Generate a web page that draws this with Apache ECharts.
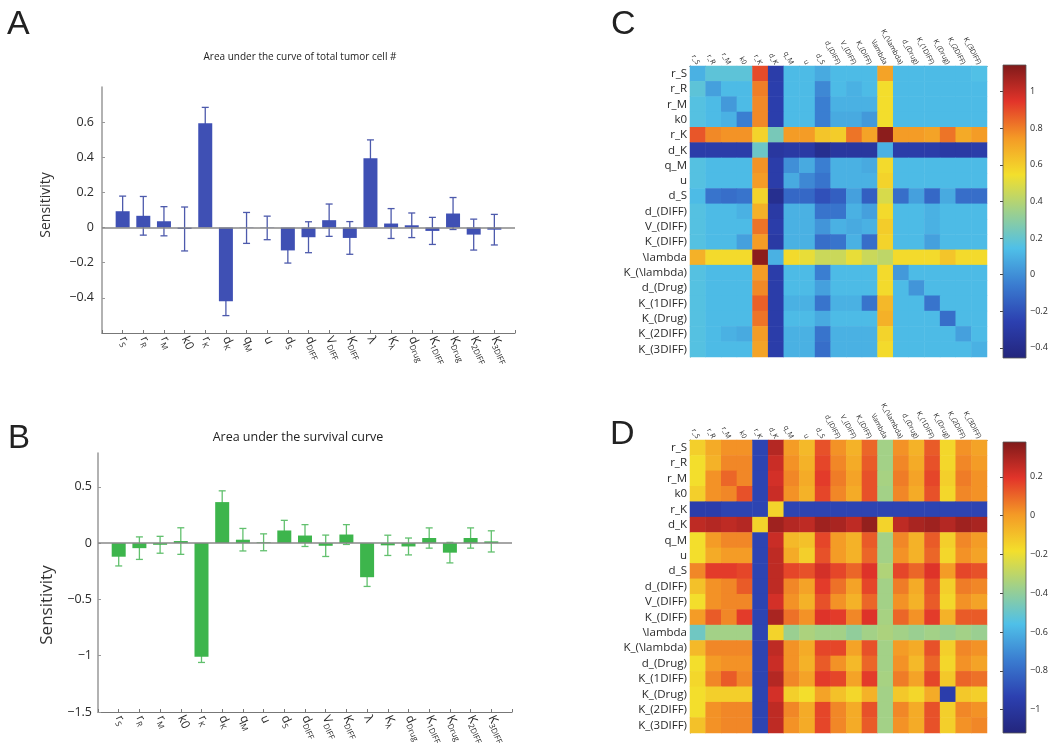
<!DOCTYPE html>
<html><head><meta charset="utf-8">
<script src="https://cdn.jsdelivr.net/npm/echarts@6/dist/echarts.min.js"></script>
<style>html,body{margin:0;padding:0;background:#fff}#c{width:1057px;height:750px}</style>
</head><body><div id="c"></div>
<script>
// ---------- data ----------
const params = ['r_S','r_R','r_M','k0','r_K','d_K','q_M','u','d_S','d_(DIFF)','V_(DIFF)','K_(DIFF)','\\lambda','K_(\\lambda)','d_(Drug)','K_(1DIFF)','K_(Drug)','K_(2DIFF)','K_(3DIFF)'];
const barMain = ['r','r','r','k0','r','d','q','u','d','d','V','K','λ','K','d','K','K','K','K'];
const barSub  = ['S','R','M','','K','K','M','','S','DIFF','DIFF','DIFF','','λ','Drug','1DIFF','Drug','2DIFF','3DIFF'];
const barPos  = [1,2,3,4,5,6,7,8,9,10,11,12,13,14,15,16,17,18,19];

const valsA = [0.093, 0.067, 0.036, -0.008, 0.594, -0.419, -0.002, -0.002, -0.130, -0.055, 0.042, -0.059, 0.394, 0.023, 0.013, -0.019, 0.080, -0.040, -0.012];
const errA  = [0.086, 0.110, 0.083, 0.125, 0.090, 0.082, 0.088, 0.067, 0.072, 0.088, 0.092, 0.093, 0.105, 0.085, 0.070, 0.077, 0.091, 0.088, 0.087];
const valsB = [-0.121, -0.045, -0.015, 0.018, -1.010, 0.364, 0.030, 0.007, 0.112, 0.067, -0.024, 0.076, -0.303, -0.020, -0.030, 0.045, -0.085, 0.045, 0.015];
const errB  = [0.082, 0.100, 0.075, 0.118, 0.050, 0.100, 0.100, 0.075, 0.090, 0.097, 0.095, 0.088, 0.082, 0.090, 0.075, 0.090, 0.091, 0.090, 0.094];

const ticksA = [-0.4, -0.2, 0, 0.2, 0.4, 0.6];
const ticksB = [-1.5, -1, -0.5, 0, 0.5];
const ticksC = [-0.4, -0.2, 0, 0.2, 0.4, 0.6, 0.8, 1];
const ticksD = [-1, -0.8, -0.6, -0.4, -0.2, 0, 0.2];
const rangeC = [-0.455, 1.146];
const rangeD = [-1.12, 0.38];

const matC = [
 [0.10,0.18,0.18,0.18,0.90,-0.28,0.13,0.13,0.08,0.13,0.13,0.13,0.72,0.13,0.13,0.13,0.13,0.13,0.15],
 [0.18,0.05,0.13,0.13,0.80,-0.27,0.13,0.13,-0.02,0.13,0.10,0.13,0.55,0.13,0.13,0.13,0.13,0.13,0.13],
 [0.16,0.13,0.03,0.13,0.78,-0.27,0.13,0.13,-0.05,0.10,0.10,0.10,0.55,0.13,0.13,0.13,0.13,0.13,0.13],
 [0.16,0.13,0.10,-0.05,0.78,-0.27,0.13,0.13,-0.05,0.08,0.08,0.03,0.55,0.13,0.13,0.13,0.13,0.13,0.13],
 [0.88,0.78,0.76,0.76,0.58,0.25,0.74,0.74,0.62,0.60,0.82,0.72,1.12,0.74,0.74,0.72,0.82,0.70,0.74],
 [-0.28,-0.28,-0.28,-0.28,0.22,-0.32,-0.30,-0.30,-0.38,-0.32,-0.32,-0.32,0.10,-0.28,-0.28,-0.28,-0.30,-0.30,-0.28],
 [0.16,0.13,0.13,0.13,0.76,-0.28,0.00,0.08,-0.05,0.10,0.10,0.08,0.56,0.13,0.13,0.13,0.13,0.13,0.13],
 [0.16,0.13,0.13,0.13,0.74,-0.28,0.08,-0.02,-0.08,0.10,0.10,0.10,0.58,0.13,0.13,0.13,0.13,0.13,0.13],
 [0.13,-0.08,-0.10,-0.08,0.58,-0.38,-0.12,-0.12,-0.20,-0.15,0.05,-0.15,0.48,-0.10,0.05,-0.12,0.08,-0.10,-0.10],
 [0.16,0.13,0.13,0.10,0.68,-0.30,0.10,0.10,-0.08,-0.08,0.10,0.05,0.56,0.13,0.13,0.10,0.13,0.13,0.13],
 [0.16,0.13,0.13,0.13,0.82,-0.28,0.10,0.10,0.02,0.10,0.08,0.10,0.60,0.13,0.13,0.10,0.13,0.13,0.13],
 [0.16,0.13,0.13,0.05,0.74,-0.30,0.10,0.10,-0.10,-0.08,0.10,-0.10,0.58,0.13,0.13,0.05,0.13,0.13,0.13],
 [0.68,0.56,0.56,0.56,1.12,0.10,0.56,0.52,0.45,0.45,0.52,0.45,0.42,0.56,0.56,0.56,0.62,0.56,0.56],
 [0.16,0.13,0.13,0.13,0.74,-0.28,0.13,0.13,-0.05,0.13,0.13,0.13,0.56,0.03,0.13,0.13,0.13,0.13,0.13],
 [0.16,0.13,0.13,0.13,0.78,-0.28,0.13,0.13,0.05,0.13,0.13,0.13,0.56,0.13,0.02,0.13,0.13,0.13,0.13],
 [0.16,0.13,0.13,0.13,0.86,-0.28,0.10,0.10,-0.08,0.10,0.10,-0.08,0.66,0.13,0.13,-0.08,0.13,0.13,0.13],
 [0.16,0.13,0.13,0.13,0.82,-0.28,0.13,0.13,0.08,0.13,0.13,0.13,0.68,0.13,0.13,0.13,-0.10,0.13,0.13],
 [0.16,0.13,0.10,0.08,0.74,-0.28,0.10,0.10,-0.08,0.10,0.10,0.10,0.58,0.13,0.13,0.13,0.13,0.05,0.13],
 [0.16,0.13,0.13,0.13,0.72,-0.28,0.10,0.10,-0.10,0.10,0.10,0.10,0.56,0.13,0.13,0.13,0.13,0.13,0.10]
];
const matD = [
 [-0.14,-0.04,0.02,0.02,-0.92,0.28,0.00,-0.08,0.14,0.02,-0.06,0.10,-0.36,0.02,-0.06,0.12,-0.16,0.02,-0.02],
 [-0.18,-0.06,0.04,0.04,-0.92,0.24,0.02,-0.06,0.16,0.04,-0.04,0.12,-0.36,0.04,-0.04,0.14,-0.16,0.04,0.00],
 [-0.18,0.02,0.10,0.04,-0.92,0.22,0.04,-0.04,0.18,0.06,-0.02,0.14,-0.35,0.06,-0.02,0.16,-0.14,0.06,0.02],
 [-0.14,0.02,0.04,0.14,-0.92,0.24,0.02,-0.06,0.16,0.04,-0.04,0.14,-0.36,0.04,-0.04,0.14,-0.16,0.04,0.02],
 [-0.95,-0.95,-0.92,-0.92,-0.92,-0.15,-0.92,-0.92,-0.92,-0.92,-0.92,-0.92,-0.92,-0.92,-0.92,-0.92,-0.92,-0.92,-0.92],
 [0.26,0.28,0.26,0.28,-0.15,0.32,0.28,0.26,0.32,0.30,0.26,0.34,-0.15,0.26,0.30,0.32,0.28,0.32,0.30],
 [-0.18,0.00,0.04,0.04,-0.92,0.24,-0.08,-0.10,0.16,0.00,-0.06,0.12,-0.36,0.04,-0.06,0.12,-0.14,0.04,0.00],
 [-0.18,-0.04,0.00,0.00,-0.92,0.26,-0.04,-0.14,0.14,0.00,-0.06,0.10,-0.36,0.02,-0.06,0.10,-0.16,0.02,-0.02],
 [0.04,0.18,0.18,0.16,-0.92,0.26,0.16,0.14,0.22,0.16,0.10,0.20,-0.33,0.16,0.10,0.20,0.00,0.16,0.14],
 [-0.10,0.02,0.04,0.12,-0.92,0.26,0.04,-0.02,0.18,0.08,-0.02,0.16,-0.36,0.06,-0.04,0.14,-0.14,0.06,0.04],
 [-0.18,0.02,0.04,0.04,-0.92,0.22,0.02,-0.06,0.14,0.02,-0.06,0.10,-0.36,0.02,-0.06,0.12,-0.16,0.02,-0.02],
 [0.00,0.12,0.04,0.18,-0.92,0.30,0.08,0.02,0.20,0.18,0.04,0.20,-0.35,0.10,0.02,0.18,-0.06,0.12,0.12],
 [-0.48,-0.36,-0.36,-0.36,-0.92,-0.15,-0.38,-0.34,-0.36,-0.36,-0.40,-0.36,-0.34,-0.36,-0.38,-0.36,-0.38,-0.36,-0.38],
 [-0.08,0.04,0.04,0.04,-0.92,0.26,0.02,-0.04,0.16,0.16,-0.02,0.14,-0.36,0.00,-0.04,0.14,-0.14,0.04,0.02],
 [-0.18,0.00,0.02,0.02,-0.92,0.24,0.02,-0.06,0.12,0.02,-0.08,0.10,-0.36,0.02,-0.08,0.10,-0.16,0.02,-0.02],
 [-0.16,0.04,0.12,0.04,-0.92,0.28,0.04,-0.02,0.18,0.16,-0.02,0.18,-0.35,0.06,-0.02,0.16,-0.12,0.10,0.08],
 [-0.18,-0.14,-0.14,-0.14,-0.92,0.22,-0.14,-0.18,-0.02,-0.10,-0.16,-0.06,-0.36,-0.12,-0.16,-0.04,-0.95,-0.12,-0.14],
 [-0.18,0.02,0.04,0.04,-0.92,0.26,0.04,-0.04,0.16,0.04,-0.04,0.14,-0.36,0.04,-0.04,0.14,-0.14,0.04,0.02],
 [-0.10,0.02,0.04,0.04,-0.92,0.26,0.02,-0.04,0.16,0.04,-0.04,0.12,-0.36,0.02,-0.04,0.14,-0.14,0.02,0.04]
];

// ---------- styling ----------
const JET = ['#23257c','#2c40b0','#3a7cd0','#4fc0e8','#9ed08c','#f3df2c','#f49a26','#e2342a','#7f1a1a'];
const FONT = 'Open Sans';
const TXT = '#2a2a2a';

function heatData(m){ const out=[]; m.forEach((row,i)=>row.forEach((v,j)=>out.push([j,i,v]))); return out; }
function pairs(xs, ys){ return xs.map((x,i)=>[x, ys[i]]); }
function triples(xs, ys, es){ return xs.map((x,i)=>[x, ys[i], es[i]]); }
function numFmt(v){ const a = Math.round(Math.abs(v)*10)/10; return (v < -1e-9 ? '\u2212' : '') + String(a); }
function xlab(v){ const i = Math.round(v)-1; if(i<0||i>18) return ''; return '{m|'+barMain[i]+'}' + (barSub[i] ? '{s|'+barSub[i]+'}' : ''); }

function errRender(color){
  return function(params, api){
    const x = api.value(0), v = api.value(1), e = api.value(2);
    const t = api.coord([x, v+e]), b = api.coord([x, v-e]);
    const hw = 3.5, st = {stroke: color, lineWidth: 1.3};
    return {type:'group', children:[
      {type:'line', shape:{x1:t[0],y1:t[1],x2:b[0],y2:b[1]}, style:st},
      {type:'line', shape:{x1:t[0]-hw,y1:t[1],x2:t[0]+hw,y2:t[1]}, style:st},
      {type:'line', shape:{x1:b[0]-hw,y1:b[1],x2:b[0]+hw,y2:b[1]}, style:st}
    ]};
  };
}
function cbarRender(params, api){
  const p1 = api.coord([0, api.value(2)]), p2 = api.coord([1, api.value(1)]);
  const stops = JET.slice().reverse().map((c,i,a)=>({offset:i/(a.length-1), color:c}));
  return {type:'rect', shape:{x:p1[0], y:p1[1], width:p2[0]-p1[0], height:p2[1]-p1[1]},
          style:{fill:new echarts.graphic.LinearGradient(0,0,0,1,stops), stroke:'#555', lineWidth:0.8}};
}

function barXAxis(gi){
  return {type:'value', gridIndex:gi, min:0, max:20, interval:1,
    axisLine:{onZero:false, lineStyle:{color:'#777', width:1.2}},
    axisTick:{inside:true, length:3, lineStyle:{color:'#777'}},
    splitLine:{show:false},
    axisLabel:{rotate:-65, margin:4, formatter:xlab, customValues:barPos,
      rich:{m:{fontSize:12, color:TXT, fontFamily:FONT}, s:{fontSize:8, color:TXT, fontFamily:FONT, padding:[8,0,0,0]}}}};
}
function barYAxis(gi, min, max, ticks, margin){
  return {type:'value', gridIndex:gi, min:min, max:max,
    axisLine:{show:true, lineStyle:{color:'#999', width:1.5}},
    axisTick:{show:true, inside:true, length:3, customValues:ticks, lineStyle:{color:'#999'}},
    splitLine:{show:false},
    axisLabel:{customValues:ticks, formatter:numFmt, fontSize:12.5, color:TXT, fontFamily:FONT, margin:margin}};
}
function heatXAxis(gi){
  return {type:'category', gridIndex:gi, data:params, position:'top',
    axisLine:{lineStyle:{color:'#333', width:1}},
    axisTick:{inside:true, length:2, alignWithLabel:true, lineStyle:{color:'#555'}},
    axisLabel:{interval:0, rotate:62, fontSize:7, margin:2, color:TXT, fontFamily:FONT},
    splitLine:{show:false}};
}
function heatYAxis(gi){
  return {type:'category', gridIndex:gi, data:params, inverse:true,
    axisLine:{lineStyle:{color:'#555', width:0.8}},
    axisTick:{inside:true, length:2, alignWithLabel:true, lineStyle:{color:'#555'}},
    axisLabel:{interval:0, fontSize:11.5, margin:3, color:TXT, fontFamily:FONT},
    splitLine:{show:false}};
}
function cbX(gi){ return {type:'value', gridIndex:gi, min:0, max:1, show:false}; }
function cbY(gi, r, ticks){
  return {type:'value', gridIndex:gi, min:r[0], max:r[1], position:'right',
    axisLine:{show:false}, splitLine:{show:false},
    axisTick:{show:true, inside:true, length:3, customValues:ticks, lineStyle:{color:'#444'}},
    axisLabel:{customValues:ticks, formatter:numFmt, fontSize:9, margin:4, color:TXT, fontFamily:FONT}};
}

const option = {
  animation:false,
  backgroundColor:'#fff',
  grid:[
    {left:102, top:87, width:413, height:246},
    {left:98, top:453, width:414, height:259},
    {left:690, top:66, width:297, height:291},
    {left:690, top:440, width:297, height:293},
    {left:1003, top:65, width:23, height:293},
    {left:1003, top:442, width:23, height:291}
  ],
  xAxis:[barXAxis(0), barXAxis(1), heatXAxis(2), heatXAxis(3), cbX(4), cbX(5)],
  yAxis:[barYAxis(0,-0.6,0.8,ticksA,8), barYAxis(1,-1.5,0.8,ticksB,6), heatYAxis(2), heatYAxis(3), cbY(4,rangeC,ticksC), cbY(5,rangeD,ticksD)],
  visualMap:[
    {type:'continuous', show:false, seriesIndex:4, dimension:2, min:rangeC[0], max:rangeC[1], inRange:{color:JET}},
    {type:'continuous', show:false, seriesIndex:5, dimension:2, min:rangeD[0], max:rangeD[1], inRange:{color:JET}}
  ],
  series:[
    {type:'bar', xAxisIndex:0, yAxisIndex:0, data:pairs(barPos, valsA), barWidth:14, z:3,
     itemStyle:{color:'#3f50b4'},
     markLine:{silent:true, symbol:['none','none'], label:{show:false}, lineStyle:{color:'#888', width:1.6, type:'solid'}, data:[{yAxis:0}]}},
    {type:'custom', xAxisIndex:0, yAxisIndex:0, data:triples(barPos, valsA, errA), renderItem:errRender('#4d5aac'), z:2},
    {type:'bar', xAxisIndex:1, yAxisIndex:1, data:pairs(barPos, valsB), barWidth:14, z:3,
     itemStyle:{color:'#3db54c'},
     markLine:{silent:true, symbol:['none','none'], label:{show:false}, lineStyle:{color:'#888', width:1.6, type:'solid'}, data:[{yAxis:0}]}},
    {type:'custom', xAxisIndex:1, yAxisIndex:1, data:triples(barPos, valsB, errB), renderItem:errRender('#62c06e'), z:2},
    {type:'heatmap', xAxisIndex:2, yAxisIndex:2, data:heatData(matC), emphasis:{disabled:true}},
    {type:'heatmap', xAxisIndex:3, yAxisIndex:3, data:heatData(matD), emphasis:{disabled:true}},
    {type:'custom', xAxisIndex:4, yAxisIndex:4, data:[[0, rangeC[0], rangeC[1]]], renderItem:cbarRender},
    {type:'custom', xAxisIndex:5, yAxisIndex:5, data:[[0, rangeD[0], rangeD[1]]], renderItem:cbarRender}
  ],
  graphic:[
    {type:'text', left:7, top:8, style:{text:'A', font:'34px "Liberation Sans"', fill:'#222'}},
    {type:'text', left:8, top:422, style:{text:'B', font:'33px "Liberation Sans"', fill:'#222'}},
    {type:'text', left:611, top:8, style:{text:'C', font:'34px "Liberation Sans"', fill:'#222'}},
    {type:'text', left:610, top:418, style:{text:'D', font:'34px "Liberation Sans"', fill:'#222'}},
    {type:'text', x:300, y:57, style:{text:'Area under the curve of total tumor cell #', font:'10px "Open Sans"', fill:'#222', textAlign:'center', textVerticalAlign:'middle'}},
    {type:'text', x:298, y:437, style:{text:'Area under the survival curve', font:'12.5px "Open Sans"', fill:'#222', textAlign:'center', textVerticalAlign:'middle'}},
    {type:'text', x:46, y:205, rotation:Math.PI/2, style:{text:'Sensitivity', font:'14px "Open Sans"', fill:'#333', textAlign:'center', textVerticalAlign:'middle'}},
    {type:'text', x:47, y:605, rotation:Math.PI/2, style:{text:'Sensitivity', font:'17px "Open Sans"', fill:'#333', textAlign:'center', textVerticalAlign:'middle'}}
  ]
};
const chart = echarts.init(document.getElementById('c'));
chart.setOption(option);
</script></body></html>
